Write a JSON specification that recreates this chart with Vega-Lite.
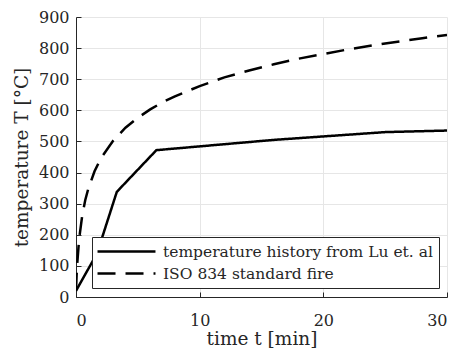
{
  "$schema": "https://vega.github.io/schema/vega-lite/v6.json",
  "width": 371,
  "height": 280,
  "autosize": {"type": "none"},
  "padding": {"left": 76, "top": 17, "right": 10, "bottom": 58},
  "background": "white",
  "config": {
    "view": {"stroke": null},
    "font": "DejaVu Serif",
    "axis": {
      "labelFont": "DejaVu Serif",
      "labelFontSize": 16,
      "labelColor": "#262626",
      "titleFont": "DejaVu Serif",
      "titleFontSize": 18.5,
      "titleFontWeight": "normal",
      "titleColor": "#262626",
      "domainColor": "#262626",
      "domainWidth": 1,
      "tickColor": "#262626",
      "tickSize": -5,
      "gridColor": "#e6e6e6",
      "gridWidth": 1
    }
  },
  "data": {
    "values": [
      {"t": 0, "T": 20, "series": "temperature history from Lu et. al"},
      {"t": 1.7, "T": 140, "series": "temperature history from Lu et. al"},
      {"t": 3.3, "T": 338, "series": "temperature history from Lu et. al"},
      {"t": 6.5, "T": 472, "series": "temperature history from Lu et. al"},
      {"t": 16, "T": 505, "series": "temperature history from Lu et. al"},
      {"t": 25, "T": 530, "series": "temperature history from Lu et. al"},
      {"t": 30, "T": 535, "series": "temperature history from Lu et. al"},
      {"t": 0, "T": 20, "series": "ISO 834 standard fire"},
      {"t": 0.05, "T": 70, "series": "ISO 834 standard fire"},
      {"t": 0.1, "T": 108, "series": "ISO 834 standard fire"},
      {"t": 0.25, "T": 185, "series": "ISO 834 standard fire"},
      {"t": 0.5, "T": 261, "series": "ISO 834 standard fire"},
      {"t": 0.75, "T": 312, "series": "ISO 834 standard fire"},
      {"t": 1, "T": 349, "series": "ISO 834 standard fire"},
      {"t": 1.5, "T": 404, "series": "ISO 834 standard fire"},
      {"t": 2, "T": 445, "series": "ISO 834 standard fire"},
      {"t": 3, "T": 502, "series": "ISO 834 standard fire"},
      {"t": 4, "T": 544, "series": "ISO 834 standard fire"},
      {"t": 5, "T": 576, "series": "ISO 834 standard fire"},
      {"t": 6, "T": 603, "series": "ISO 834 standard fire"},
      {"t": 7, "T": 626, "series": "ISO 834 standard fire"},
      {"t": 8, "T": 645, "series": "ISO 834 standard fire"},
      {"t": 10, "T": 678, "series": "ISO 834 standard fire"},
      {"t": 12, "T": 706, "series": "ISO 834 standard fire"},
      {"t": 14, "T": 728, "series": "ISO 834 standard fire"},
      {"t": 16, "T": 748, "series": "ISO 834 standard fire"},
      {"t": 18, "T": 766, "series": "ISO 834 standard fire"},
      {"t": 20, "T": 781, "series": "ISO 834 standard fire"},
      {"t": 22, "T": 796, "series": "ISO 834 standard fire"},
      {"t": 25, "T": 815, "series": "ISO 834 standard fire"},
      {"t": 28, "T": 832, "series": "ISO 834 standard fire"},
      {"t": 30, "T": 842, "series": "ISO 834 standard fire"}
    ]
  },
  "mark": {"type": "line", "color": "black", "strokeWidth": 2.5, "clip": true},
  "encoding": {
    "x": {
      "field": "t",
      "type": "quantitative",
      "scale": {"domain": [0, 30], "nice": false},
      "axis": {"values": [0, 10, 20, 30], "title": "time t [min]", "labelPadding": 20, "titlePadding": 1}
    },
    "y": {
      "field": "T",
      "type": "quantitative",
      "scale": {"domain": [0, 900], "nice": false},
      "axis": {"values": [0, 100, 200, 300, 400, 500, 600, 700, 800, 900], "title": "temperature T [°C]", "labelPadding": 12, "titlePadding": 7}
    },
    "strokeDash": {
      "field": "series",
      "type": "nominal",
      "scale": {
        "domain": ["temperature history from Lu et. al", "ISO 834 standard fire"],
        "range": [[1, 0], [18, 10]]
      },
      "legend": {
        "title": null,
        "orient": "none",
        "legendX": 16,
        "legendY": 220,
        "symbolType": "M-4,0H4",
        "symbolSize": 210,
        "symbolStrokeWidth": 2.5,
        "symbolStrokeColor": "black",
        "symbolOffset": 20,
        "labelOffset": 28,
        "labelFont": "DejaVu Serif",
        "labelFontSize": 15.5,
        "labelColor": "#262626",
        "rowPadding": 5,
        "padding": 6,
        "strokeColor": "#262626",
        "fillColor": "white",
        "cornerRadius": 0,
        "labelLimit": 400
      }
    }
  }
}
